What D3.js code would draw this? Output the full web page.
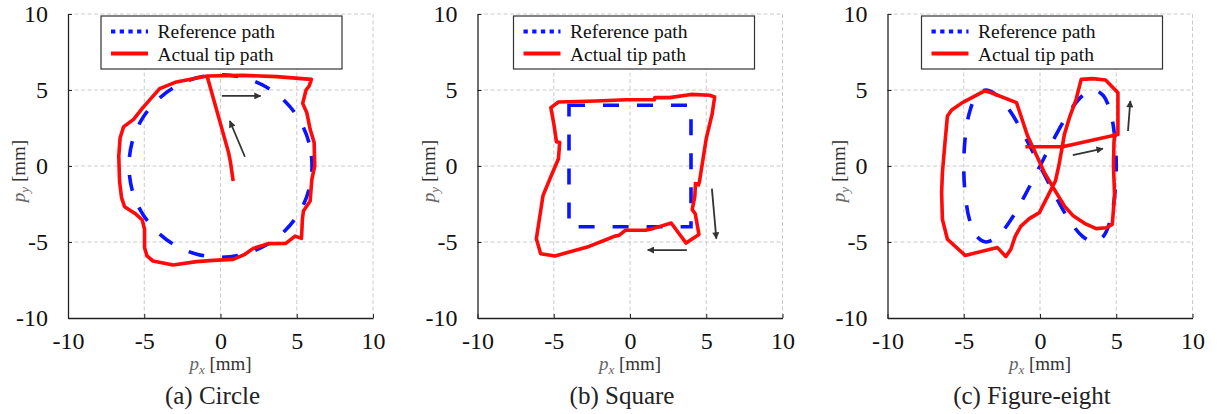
<!DOCTYPE html>
<html>
<head>
<meta charset="utf-8">
<script src="https://cdn.jsdelivr.net/npm/d3@7"></script>
</head>
<body style="margin:0">
<script>
// tick values shared by the three panels
const xTicks = [-10, -5, 0, 5, 10];
const yTicks = [-10, -5, 0, 5, 10];

const captions = ["(a) Circle", "(b) Square", "(c) Figure-eight"];
const legendLabels = ["Reference path", "Actual tip path"];

// (a) circle, reference path (r = 6 mm) and measured tip path
const circleRef = [[6,0],[5.80,1.55],[5.20,3.00],[4.24,4.24],[3.00,5.20],[1.55,5.80],[0,6],[-1.55,5.80],
  [-3.00,5.20],[-4.24,4.24],[-5.20,3.00],[-5.80,1.55],[-6,0],[-5.80,-1.55],[-5.20,-3.00],[-4.24,-4.24],
  [-3.00,-5.20],[-1.55,-5.80],[0,-6],[1.55,-5.80],[3.00,-5.20],[4.24,-4.24],[5.20,-3.00],[5.80,-1.55]];
const circleTip = [[0.83,-0.99],[0.66,0.22],[0.53,0.88],[-0.88,5.92],[1.49,5.96],[3.68,5.88],[5.96,5.70],
  [5.81,5.26],[5.61,5.0],[5.39,4.12],[5.66,3.51],[5.88,2.41],[6.14,1.54],[6.18,0.0],[5.99,-0.88],[5.88,-2.30],
  [5.44,-2.96],[5.37,-3.51],[5.31,-4.76],[4.89,-4.61],[4.28,-5.09],[3.14,-5.11],[2.15,-5.42],[1.60,-5.81],
  [0.83,-6.14],[-0.48,-6.21],[-1.58,-6.29],[-3.11,-6.51],[-4.43,-6.25],[-4.82,-5.92],[-4.98,-5.37],
  [-4.98,-4.17],[-5.13,-3.55],[-5.53,-3.18],[-6.29,-2.68],[-6.49,-2.08],[-6.62,-0.99],[-6.67,0.66],
  [-6.58,1.86],[-6.36,2.57],[-5.70,3.07],[-5.09,3.84],[-3.99,5.09],[-2.89,5.53],[-0.88,5.92]];
const circleArrows = [[[0.09,4.61],[2.63,4.61]], [[1.60,0.61],[0.61,2.96]]];

// (b) square, reference path (side 8 mm) and measured tip path
const squareRef = [[-4,4],[4,4],[4,-4],[-4,-4]];
const squareTip = [[4.30,-1.05],[4.25,-2.0],[4.08,-2.87],[4.28,-3.14],[4.52,-4.50],[3.68,-5.07],[2.70,-3.75],
  [1.49,-4.12],[1.01,-4.23],[-0.31,-4.23],[-0.70,-4.55],[-1.04,-4.63],[-1.58,-4.85],[-2.68,-5.29],
  [-3.99,-5.66],[-4.91,-5.92],[-5.86,-5.77],[-6.14,-4.78],[-5.92,-3.36],[-5.70,-1.93],[-5.20,-0.72],
  [-4.69,0.48],[-4.61,1.56],[-4.82,1.58],[-4.98,2.68],[-5.19,3.84],[-4.69,4.21],[-2.24,4.28],[-0.26,4.36],
  [1.60,4.36],[1.62,4.50],[2.59,4.50],[4.01,4.71],[5.22,4.65],[5.55,4.54],[5.39,3.44],[5.0,1.80],
  [4.74,0.15],[4.55,-1.05],[4.45,-1.35]];
const squareArrows = [[[5.37,-1.49],[5.66,-4.78]], [[3.73,-5.53],[1.16,-5.53]]];

// (c) figure-eight, reference path and measured tip path
const eightRef = [[0,0],[0.98,1.91],[1.91,3.54],[2.78,4.62],[3.54,5],[4.16,4.62],[4.62,3.54],[4.90,1.91],
  [5,0],[4.90,-1.91],[4.62,-3.54],[4.16,-4.62],[3.54,-5],[2.78,-4.62],[1.91,-3.54],[0.98,-1.91],
  [0,0],[-0.98,1.91],[-1.91,3.54],[-2.78,4.62],[-3.54,5],[-4.16,4.62],[-4.62,3.54],[-4.90,1.91],
  [-5,0],[-4.90,-1.91],[-4.62,-3.54],[-4.16,-4.62],[-3.54,-5],[-2.78,-4.62],[-1.91,-3.54],[-0.98,-1.91]];
const eightTip = [[-0.96,1.27],[1.49,1.27],[5.11,2.08],[5.11,4.82],[4.30,5.66],[3.46,5.75],[2.70,5.70],
  [2.37,4.39],[1.93,3.18],[1.60,2.08],[1.45,1.21],[1.23,0],[1.01,-0.99],[0.50,-2.0],[-0.04,-3.07],
  [-0.70,-3.46],[-1.25,-3.95],[-1.62,-4.61],[-1.91,-5.48],[-2.24,-5.96],[-2.79,-5.37],[-4.91,-5.88],
  [-6.07,-4.82],[-6.40,-3.51],[-6.45,-1.75],[-6.40,-0.44],[-6.23,1.54],[-6.07,3.29],[-5.79,3.68],
  [-5.09,4.17],[-3.66,4.93],[-3.33,4.87],[-1.54,4.17],[-1.14,2.96],[-0.81,1.97],[-0.26,0.77],[0.29,-0.44],
  [0.94,-1.54],[1.60,-2.63],[2.15,-3.25],[2.92,-3.77],[3.68,-4.12],[4.34,-4.06],[4.74,-3.84],[4.89,-1.97],
  [4.82,0],[4.85,1.54],[4.90,2.2]];
const eightArrows = [[[2.15,0.72],[4.12,1.14]], [[5.77,2.30],[5.92,4.28]]];

const width = 1217;
const height = 414;
const plotW = 305, plotH = 304, plotTop = 14;
const panelLeft = [68, 477.5, 887.5];
const fam = "Liberation Serif";

const svg = d3.select("body")
  .append("svg")
  .attr("width", width)
  .attr("height", height)
  .attr("font-family", fam);

svg.append("rect").attr("width", width).attr("height", height).attr("fill", "#fff");

svg.append("defs").append("marker")
  .attr("id", "arrowhead")
  .attr("viewBox", "0 0 10 10")
  .attr("refX", 9).attr("refY", 5)
  .attr("markerUnits", "userSpaceOnUse")
  .attr("markerWidth", 9).attr("markerHeight", 7)
  .attr("orient", "auto")
  .append("path")
  .attr("d", "M0,0 L10,5 L0,10 z")
  .attr("fill", "#333");

const x = d3.scaleLinear().domain([-10, 10]).range([0, plotW]);
const y = d3.scaleLinear().domain([-10, 10]).range([plotH, 0]);

const panels = [
  {ref: circleRef, refCurve: d3.curveCatmullRomClosed, tip: circleTip, arrows: circleArrows, caption: captions[0], legendX: 33},
  {ref: squareRef, refCurve: d3.curveLinearClosed, tip: squareTip, arrows: squareArrows, caption: captions[1], legendX: 36},
  {ref: eightRef, refCurve: d3.curveCatmullRomClosed, tip: eightTip, arrows: eightArrows, caption: captions[2], legendX: 34}
];

panels.forEach((p, i) => {
  const g = svg.append("g").attr("transform", `translate(${panelLeft[i]},${plotTop})`);

  // grid
  g.append("g").selectAll("line")
    .data(xTicks.filter(d => d > -10))
    .enter().append("line")
    .attr("x1", d => x(d)).attr("x2", d => x(d))
    .attr("y1", 0).attr("y2", plotH)
    .attr("stroke", "#c4c4c4").attr("stroke-width", 0.9).attr("stroke-dasharray", "4,2.5");
  g.append("g").selectAll("line")
    .data(yTicks.filter(d => d > -10))
    .enter().append("line")
    .attr("x1", 0).attr("x2", plotW)
    .attr("y1", d => y(d)).attr("y2", d => y(d))
    .attr("stroke", "#c4c4c4").attr("stroke-width", 0.9).attr("stroke-dasharray", "4,2.5");

  // axes
  const xAxis = g.append("g")
    .attr("transform", `translate(0,${plotH})`)
    .call(d3.axisBottom(x).tickValues(xTicks).tickSizeInner(-4).tickSizeOuter(0).tickPadding(14));
  const yAxis = g.append("g")
    .call(d3.axisLeft(y).tickValues(yTicks).tickSizeInner(-4).tickSizeOuter(0).tickPadding(20));
  [xAxis, yAxis].forEach(a => {
    a.attr("color", "#222").attr("font-family", fam).attr("font-size", 24);
    a.select(".domain").attr("stroke-width", 1.3);
    a.selectAll("text")
      .attr("font-family", fam)
      .attr("fill", "#111")
      .text(d => d < 0 ? "-" + Math.abs(d) : d);
  });

  const line = d3.line().x(d => x(d[0])).y(d => y(d[1]));

  // reference path (blue dashed)
  g.append("path")
    .attr("d", d3.line().x(d => x(d[0])).y(d => y(d[1])).curve(p.refCurve)(p.ref))
    .attr("fill", "none")
    .attr("stroke", "#0a14ff")
    .attr("stroke-width", 3.6)
    .attr("stroke-dasharray", "16,18");

  // actual tip path (red)
  g.append("path")
    .attr("d", line(p.tip))
    .attr("fill", "none")
    .attr("stroke", "#ff0a0a")
    .attr("stroke-width", 3.6)
    .attr("stroke-linejoin", "round");

  // direction arrows
  g.selectAll("line.arrow")
    .data(p.arrows)
    .enter().append("line")
    .attr("class", "arrow")
    .attr("x1", d => x(d[0][0])).attr("y1", d => y(d[0][1]))
    .attr("x2", d => x(d[1][0])).attr("y2", d => y(d[1][1]))
    .attr("stroke", "#333")
    .attr("stroke-width", 1.8)
    .attr("marker-end", "url(#arrowhead)");

  // legend
  const legend = g.append("g").attr("transform", `translate(${p.legendX},2)`);
  legend.append("rect")
    .attr("width", 241).attr("height", 53)
    .attr("fill", "#fff").attr("stroke", "#333").attr("stroke-width", 1.2);
  legend.append("line")
    .attr("x1", 10).attr("x2", 47).attr("y1", 15.5).attr("y2", 15.5)
    .attr("stroke", "#0a14ff").attr("stroke-width", 4).attr("stroke-dasharray", "4.3,4.4");
  legend.append("line")
    .attr("x1", 10).attr("x2", 47).attr("y1", 37.5).attr("y2", 37.5)
    .attr("stroke", "#ff0a0a").attr("stroke-width", 3.8);
  legend.selectAll("text")
    .data(legendLabels)
    .enter().append("text")
    .attr("x", 56.5)
    .attr("y", (d, k) => 22 + k * 22.5)
    .attr("font-family", fam)
    .attr("font-size", 19.5)
    .attr("fill", "#111")
    .text(d => d);

  // axis labels
  const xl = g.append("text")
    .attr("x", plotW / 2)
    .attr("y", plotH + 52)
    .attr("text-anchor", "middle")
    .attr("font-family", fam)
    .attr("font-size", 19)
    .attr("fill", "#333");
  xl.append("tspan").attr("font-style", "italic").attr("fill", "#666").text("p");
  xl.append("tspan").attr("font-style", "italic").attr("fill", "#666").attr("font-size", 13).attr("dy", 4).text("x");
  xl.append("tspan").attr("dy", -4).text(" [mm]");

  const yl = g.append("text")
    .attr("transform", `translate(-43,${plotH / 2 + 5}) rotate(-90)`)
    .attr("text-anchor", "middle")
    .attr("font-family", fam)
    .attr("font-size", 19)
    .attr("fill", "#333");
  yl.append("tspan").attr("font-style", "italic").attr("fill", "#666").text("p");
  yl.append("tspan").attr("font-style", "italic").attr("fill", "#666").attr("font-size", 13).attr("dy", 4).text("y");
  yl.append("tspan").attr("dy", -4).text(" [mm]");

  // caption
  g.append("text")
    .attr("x", plotW / 2 - 8)
    .attr("y", plotH + 86)
    .attr("text-anchor", "middle")
    .attr("font-family", fam)
    .attr("font-size", 25)
    .attr("fill", "#222")
    .text(p.caption);
});
</script>
</body>
</html>
